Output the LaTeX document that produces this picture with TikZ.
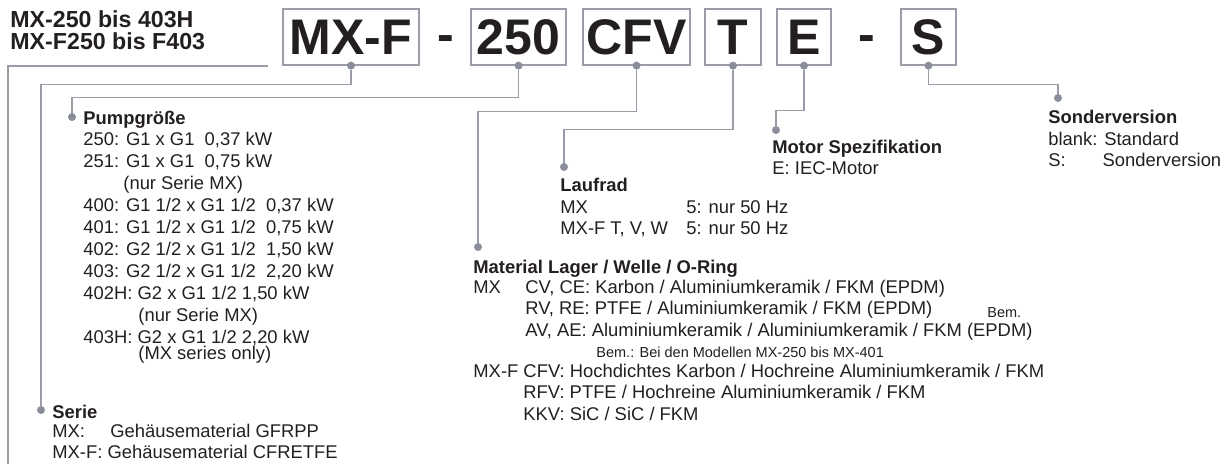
\documentclass[tikz,border=0pt]{standalone}
\usepackage{fontspec}
\setmainfont{Liberation Sans}
\usetikzlibrary{positioning}

\definecolor{linegrey}{HTML}{9A9DA8}
\definecolor{dotgrey}{HTML}{8A8E9B}
\definecolor{inkblack}{HTML}{231F20}

\begin{document}
\begin{tikzpicture}[
      x=0.5pt, y=-0.5pt,
      codebox/.style={rectangle, draw=linegrey, line width=0.65pt, minimum height=28pt,
      inner sep=0pt, text=inkblack, font=\fontsize{25}{25}\selectfont\bfseries},
      dashsym/.style={anchor=base, inner sep=0pt, text=inkblack,
      font=\fontsize{25}{25}\selectfont\bfseries},
      knob/.style={circle, fill=dotgrey, inner sep=0pt, minimum size=4pt},
      wire/.style={draw=linegrey, line width=0.65pt},
      textblk/.style={anchor=base west, align=left, inner sep=0pt, text=inkblack,
      font=\fontsize{9.2}{10.95}\selectfont},
      smallnote/.style={anchor=base west, inner sep=0pt, text=inkblack,
      font=\fontsize{7.25}{8}\selectfont}
    ]
    \useasboundingbox (0,0) rectangle (1225,464);

    % Title (nodes sit on the baseline of their last line)
    \node[anchor=base west, align=left, inner sep=0pt, text=inkblack,
    font=\fontsize{11.6}{11}\selectfont\bfseries] (title) at (10,50)
    {MX-250 bis 403H\\MX-F250 bis F403};
    \coordinate (rulestart) at (268,66);
    \coordinate (ruleend) at (8,464);
    \draw[wire] (rulestart) -| (ruleend);

    % Code row
    \node[codebox, minimum width=68pt]   (series)   at (351,37)   {MX-F};
    \node[dashsym]                        (dash1)    at (446,52)   {-};
    \node[codebox, minimum width=47.5pt] (size)     at (518.5,37) {250};
    \node[codebox, minimum width=53.5pt] (seal)     at (636.5,37) {CFV};
    \node[codebox, minimum width=28pt]   (impeller) at (733,37)   {T};
    \node[codebox, minimum width=27pt]   (motor)    at (804,37)   {E};
    \node[dashsym]                        (dash2)    at (867,52)   {-};
    \node[codebox, minimum width=27.5pt] (special)  at (928.5,37) {S};

    \foreach \b in {series, size, seal, impeller, motor, special}
    \node[knob] (\b-pin) at (\b.south) {};

    % Pumpgroesse
    \node[knob] (sizedot) at (72,117) {};
    \node[textblk] (sizetxt) at (83,359) {\textbf{Pumpgröße}\\
    250: G1 x G1\ \ 0,37 kW\\
    251: G1 x G1\ \ 0,75 kW\\
    \hspace*{20pt}(nur Serie MX)\\
    400: G1 1/2 x G1 1/2\ \ 0,37 kW\\
    401: G1 1/2 x G1 1/2\ \ 0,75 kW\\
    402: G2 1/2 x G1 1/2\ \ 1,50 kW\\
    403: G2 1/2 x G1 1/2\ \ 2,20 kW\\
    402H: G2 x G1 1/2 1,50 kW\\
    \hspace*{27.5pt}(nur Serie MX)\\
    403H: G2 x G1 1/2 2,20 kW\\[-3pt]
    \hspace*{27.5pt}(MX series only)};

    % Serie
    \node[knob] (seriedot) at (41,410) {};
    \node[textblk, font=\fontsize{9.2}{10}\selectfont] (serietxt) at (52,458)
    {\textbf{Serie}\\
    \makebox[29pt][l]{MX:}Gehäusematerial GFRPP\\
    MX-F: Gehäusematerial CFRETFE};

    % Laufrad
    \node[knob] (impdot) at (564,167) {};
    \node[textblk] (imptxt) at (560,235) {\textbf{Laufrad}\\
    \makebox[63pt][l]{MX}5: nur 50 Hz\\
    \makebox[63pt][l]{MX-F T, V, W}5: nur 50 Hz};

    % Material
    \node[knob] (sealdot) at (478,247) {};
    \node[textblk, font=\fontsize{9.2}{10.5}\selectfont] (sealtxt) at (473,420)
    {\textbf{Material Lager / Welle / O-Ring}\\
    \makebox[26pt][l]{MX}CV, CE: Karbon / Aluminiumkeramik / FKM (EPDM)\\
    \hspace*{26pt}RV, RE: PTFE / Aluminiumkeramik / FKM (EPDM)\\
    \hspace*{26pt}AV, AE: Aluminiumkeramik / Aluminiumkeramik / FKM (EPDM)\\
    \hspace*{61.5pt}{\fontsize{7.25}{8}\selectfont Bem.: Bei den Modellen MX-250 bis MX-401}\\
    MX-F CFV: Hochdichtes Karbon / Hochreine Aluminiumkeramik / FKM\\
    \hspace*{25pt}RFV: PTFE / Hochreine Aluminiumkeramik / FKM\\
    \hspace*{25pt}KKV: SiC / SiC / FKM};
    \node[smallnote] (remark) at (987,318) {Bem.};

    % Motor
    \node[knob] (motdot) at (776,130) {};
    \node[textblk] (mottxt) at (772,175) {\textbf{Motor Spezifikation}\\
    E: IEC-Motor};

    % Sonderversion
    \node[knob] (specdot) at (1058,98) {};
    \node[textblk] (spectxt) at (1048,167) {\textbf{Sonderversion}\\
    blank: Standard\\
    \makebox[27.1pt][l]{S:}Sonderversion};

    % Leads
    \draw[wire] (series-pin)   -- ++(0,19) -| (seriedot);
    \draw[wire] (size-pin)     -- ++(0,32) -| (sizedot);
    \draw[wire] (seal-pin)     -- ++(0,46) -| (sealdot);
    \draw[wire] (impeller-pin) -- ++(0,64) -| (impdot);
    \draw[wire] (motor-pin)    -- ++(0,45) -| (motdot);
    \draw[wire] (special-pin)  -- ++(0,19) -| (specdot);

  \end{tikzpicture}
\end{document}
